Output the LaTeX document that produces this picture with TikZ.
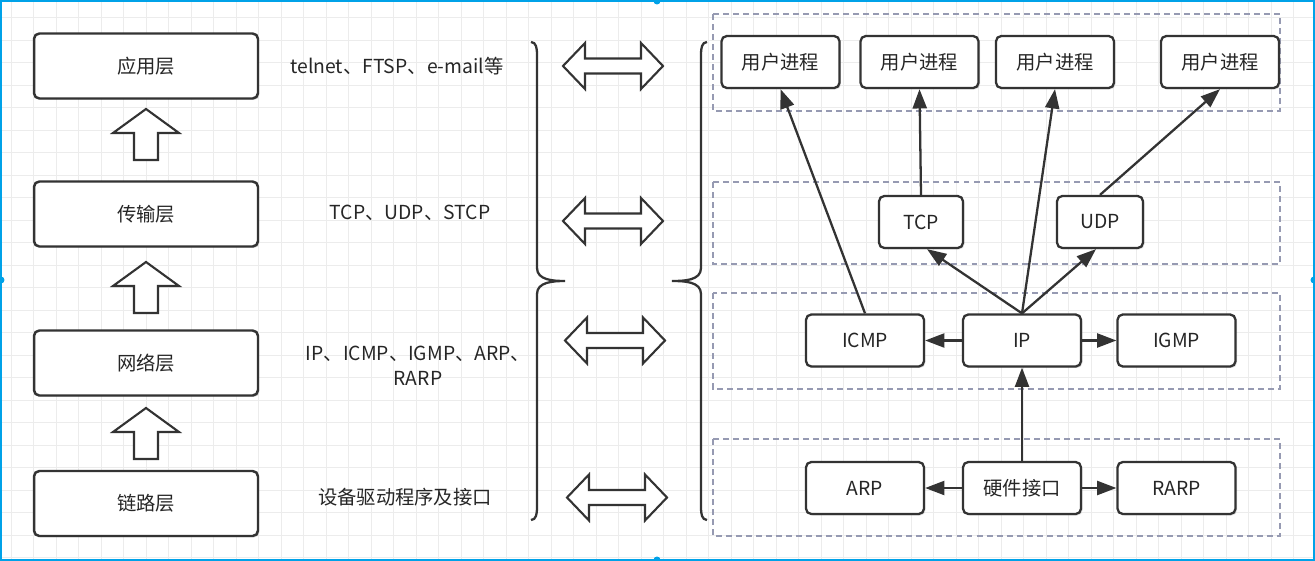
\documentclass[tikz,border=0pt]{standalone}
\usepackage{fontspec}
\setmainfont{Noto Sans CJK SC}
\usepackage{tikz}
\usetikzlibrary{positioning,calc}
\usetikzlibrary{arrows.meta,shadows}
\definecolor{LineGray}{RGB}{51,51,51}
\definecolor{DashBlue}{RGB}{150,154,178}
\definecolor{GridGray}{RGB}{236,236,236}
\definecolor{SelBlue}{RGB}{0,162,232}
\tikzset{txt/.style={font=\fontsize{11}{14}\selectfont,text=black!85}, layer/.style={txt,draw=LineGray,line width=1.4pt,rounded corners=3pt,fill=white,minimum width=4.48cm,minimum height=1.3cm,drop shadow={shadow xshift=0.03cm,shadow yshift=-0.03cm,opacity=0.25}}, proc/.style={txt,draw=LineGray,line width=1.3pt,rounded corners=3pt,fill=white,minimum width=2.36cm,minimum height=1.04cm,drop shadow={shadow xshift=0.03cm,shadow yshift=-0.03cm,opacity=0.25}}, grp/.style={draw=DashBlue,line width=1.1pt,dash pattern=on 3.4pt off 2.3pt}, flow/.style={draw=LineGray,line width=1.3pt,-{Triangle[length=11pt,width=8pt]}}, fat/.style={draw=LineGray,line width=1.2pt,fill=white,line join=miter}, brc/.style={draw=LineGray,line width=1.3pt}}
\tikzset{uparrow/.pic={\draw[fat] (-12,0) -- (-12,-27) -- (-33,-27) -- (0,-51) -- (33,-27) -- (12,-27) -- (12,0) -- cycle;}, twoway/.pic={\draw[fat] (-50,0) -- (-28,-23) -- (-28,-7.5) -- (28,-7.5) -- (28,-23) -- (50,0) -- (28,23) -- (28,7.5) -- (-28,7.5) -- (-28,23) -- cycle;}}

\begin{document}
\begin{tikzpicture}[x=0.02cm,y=-0.02cm]
\useasboundingbox (0,0) rectangle (1315,561);
% grid
\foreach \gx in {0,...,58} \draw[GridGray,line width=0.5pt] (11.25+22.5*\gx,0) -- (11.25+22.5*\gx,561);
\foreach \gy in {0,...,24} \draw[GridGray,line width=0.5pt] (0,17.7+22.5*\gy) -- (1315,17.7+22.5*\gy);
% layers on the left
\node[layer] (app) at (146,66) {应用层};
\node[layer] (trans) at (146,214) {传输层};
\node[layer] (net) at (146,363) {网络层};
\node[layer] (link) at (146,503.5) {链路层};
\pic at (146,160) {uparrow};
\pic at (146,313) {uparrow};
\pic at (146,459) {uparrow};
\node[txt] (appproto) at (397,66) {telnet、FTSP、e-mail等};
\node[txt] (transproto) at (410,213) {TCP、UDP、STCP};
\node[txt,align=center] (netproto) at (418,365.5) {IP、ICMP、IGMP、ARP、\\RARP};
\node[txt] (linkproto) at (405,497) {设备驱动程序及接口};
% braces
\draw[brc] (531,42) to[out=0,in=90] (537,54) -- (537,268) to[out=-90,in=180] (565,281) to[out=180,in=90] (537,294) -- (537,508) to[out=-90,in=0] (531,520);
\draw[brc] (707,42) to[out=180,in=90] (701,54) -- (701,268) to[out=-90,in=0] (672,281) to[out=0,in=90] (701,294) -- (701,508) to[out=-90,in=180] (707,520);
\pic at (613,66) {twoway};
\pic at (613,221) {twoway};
\pic at (615,340.5) {twoway};
\pic at (617,497.5) {twoway};
% groups on the right
\draw[grp] (713,14) rectangle (1280,111);
\draw[grp] (713,182) rectangle (1280,264);
\draw[grp] (713,293) rectangle (1280,389);
\draw[grp] (713,439) rectangle (1280,536);
\node[proc] (user1) at (780.5,62) {用户进程};
\node[proc] (user2) at (919.5,62) {用户进程};
\node[proc] (user3) at (1055,62) {用户进程};
\node[proc] (user4) at (1220,62) {用户进程};
\node[proc,minimum width=1.68cm] (tcp) at (921,222) {TCP};
\node[proc,minimum width=1.72cm] (udp) at (1100,222) {UDP};
\node[proc] (icmp) at (865,340.5) {ICMP};
\node[proc] (ip) at (1022,340.5) {IP};
\node[proc] (igmp) at (1176.5,340.5) {IGMP};
\node[proc] (arp) at (865,488) {ARP};
\node[proc] (hw) at (1022,488) {硬件接口};
\node[proc] (rarp) at (1176.5,488) {RARP};
\draw[flow] (icmp.north) -- (user1.south);
\draw[flow] (tcp.north) -- (user2.south);
\draw[flow] (ip.north) -- (user3.south);
\draw[flow] (udp.north) -- (user4.south);
\draw[flow] (ip.north) -- ([xshift=0.12cm]tcp.south);
\draw[flow] (ip.north) -- ([xshift=-0.08cm]udp.south);
\draw[flow] (ip.west) -- (icmp.east);
\draw[flow] (ip.east) -- (igmp.west);
\draw[flow] (hw.north) -- (ip.south);
\draw[flow] (hw.west) -- (arp.east);
\draw[flow] (hw.east) -- (rarp.west);
% selection frame
\draw[SelBlue,line width=1.1pt] (1,1) rectangle (1314,560);
\fill[SelBlue] (657,1) circle[radius=0.07cm] (657,560) circle[radius=0.07cm] (1,280) circle[radius=0.07cm] (1314,280) circle[radius=0.07cm];
\end{tikzpicture}
\end{document}
